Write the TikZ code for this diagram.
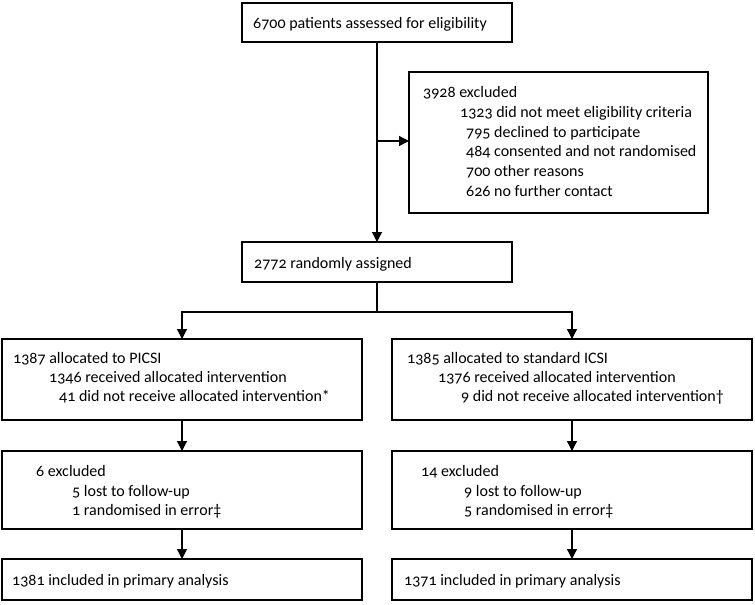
\documentclass[tikz,border=0pt]{standalone}
\usepackage{fontspec}
\setmainfont[Numbers=OldStyle]{Carlito}
\usetikzlibrary{arrows.meta,calc}
\begin{document}
\begin{tikzpicture}[x=1pt,y=-1pt,
  box/.style={draw=black,line width=1.5pt,inner sep=0pt,outer sep=0pt},
  txt/.style={anchor=base west,inner sep=0pt,font=\fontsize{16}{18}\selectfont},
  conn/.style={line width=1.3pt},
  arr/.style={line width=1.3pt,-{Triangle[length=10pt,width=10pt]}}]
\useasboundingbox (0,0) rectangle (755,605);
% boxes
\node[box,minimum width=270pt,minimum height=39pt] (top) at (377,22.5) {};
\node[box,minimum width=299pt,minimum height=141pt] (excl) at (558.5,142.5) {};
\node[box,minimum width=270pt,minimum height=40pt] (rand) at (377,262) {};
\node[box,minimum width=360pt,minimum height=81pt] (picsi) at (182,379.5) {};
\node[box,minimum width=360pt,minimum height=81pt] (icsi) at (572,379.5) {};
\node[box,minimum width=360pt,minimum height=78pt] (exL) at (182,490) {};
\node[box,minimum width=360pt,minimum height=78pt] (exR) at (572,490) {};
\node[box,minimum width=360pt,minimum height=41pt] (finL) at (182,579.5) {};
\node[box,minimum width=360pt,minimum height=41pt] (finR) at (572,579.5) {};
% texts
\node[txt] (t1) at (253,28) {6700 patients assessed for eligibility};
\node[txt] (e0) at (423,97) {3928 excluded};
\node[txt] (e1) at (460,117) {1323 did not meet eligibility criteria};
\node[txt] (e2) at (466,137) {795 declined to participate};
\node[txt] (e3) at (466,156) {484 consented and not randomised};
\node[txt] (e4) at (466,176) {700 other reasons};
\node[txt] (e5) at (466,196) {626 no further contact};
\node[txt] (r1) at (254,268) {2772 randomly assigned};
\node[txt] (p1) at (13,363) {1387 allocated to PICSI};
\node[txt] (p2) at (49,382) {1346 received allocated intervention};
\node[txt] (p3) at (59,401) {41 did not receive allocated intervention*};
\node[txt] (s1) at (407,363) {1385 allocated to standard ICSI};
\node[txt] (s2) at (438,382) {1376 received allocated intervention};
\node[txt] (s3) at (461,401) {9 did not receive allocated intervention\textdagger};
\node[txt] (xl1) at (36,476) {6 excluded};
\node[txt] (xl2) at (72,496) {5 lost to follow-up};
\node[txt] (xl3) at (72,515) {1 randomised in error\textdaggerdbl};
\node[txt] (xr1) at (421,476) {14 excluded};
\node[txt] (xr2) at (464,496) {9 lost to follow-up};
\node[txt] (xr3) at (464,515) {5 randomised in error\textdaggerdbl};
\node[txt] (fl) at (12,585) {1381 included in primary analysis};
\node[txt] (fr) at (404,585) {1371 included in primary analysis};
% connectors
\coordinate (j1) at (377,141);
\coordinate (split) at (377,312);
\draw[arr] (top.south) -- (rand.north);
\draw[arr] (j1) -- (j1 -| excl.west);
\draw[conn] (rand.south) -- (split);
\draw[arr] (split) -| (picsi.north);
\draw[arr] (split) -| (icsi.north);
\draw[arr] (picsi.south) -- (exL.north);
\draw[arr] (icsi.south) -- (exR.north);
\draw[arr] (exL.south) -- (finL.north);
\draw[arr] (exR.south) -- (finR.north);
\end{tikzpicture}
\end{document}
